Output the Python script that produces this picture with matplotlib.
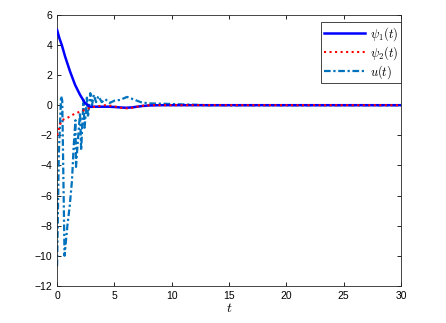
import matplotlib
matplotlib.use('Agg')
import matplotlib.pyplot as plt

plt.rcParams['font.family'] = ['Liberation Sans', 'DejaVu Sans']
plt.rcParams['mathtext.fontset'] = 'cm'

# psi_1(t)
t1 = [0, 0.2, 0.41, 0.7, 1.13, 1.57, 2.0, 2.44, 2.88, 3.3,
      4.0, 4.5, 5.0, 5.5, 6.0, 6.5, 7.0, 7.5, 8.0, 9.0, 10.0, 15.0, 30.0]
psi1 = [5.0, 4.45, 4.0, 3.23, 2.24, 1.35, 0.69, 0.14, -0.11, -0.1,
        -0.1, -0.1, -0.12, -0.15, -0.17, -0.15, -0.1, -0.05, -0.02, 0.0, 0.0, 0.0, 0.0]

# psi_2(t)
t2 = [0, 0.15, 0.3, 0.41, 1.0, 1.57, 2.2, 2.7, 3.3, 4.2, 4.8, 5.4,
      5.9, 6.5, 7.0, 7.6, 8.5, 10.0, 15.0, 30.0]
psi2 = [-2.0, -1.6, -1.2, -1.0, -0.8, -0.55, -0.38, -0.22, -0.1, 0.0, -0.05, -0.15,
        -0.22, -0.18, -0.1, -0.02, 0.0, 0.0, 0.0, 0.0]

# u(t)
tu = [0, 0.15, 0.35, 0.45, 0.65, 0.9, 1.1, 1.3, 1.45, 1.6, 1.65, 1.8, 2.0, 2.1,
      2.3, 2.4, 2.6, 2.7, 2.9, 3.05, 3.2, 3.4, 3.6, 3.9, 4.2,
      4.6, 5.0, 5.5, 6.1, 6.8, 7.3, 8.0, 9.0, 10.0, 11.0, 12.0, 13.0, 30.0]
u = [-10.7, -3.3, 0.6, 0.3, -10.0, -8.0, -6.7, -5.0, -2.7, -1.0, -4.1, -2.5, -0.5, -3.0,
     0.35, -1.5, 0.5, -0.8, 0.8, 0.0, 0.7, 0.2, 0.6, 0.2, 0.4,
     0.15, 0.3, 0.35, 0.55, 0.35, 0.2, 0.12, 0.1, 0.08, 0.05, 0.03, 0.0, 0.0]

fig = plt.figure(figsize=(4.46, 3.23), dpi=100)
ax = fig.add_axes([0.128, 0.115, 0.771, 0.839])

ax.plot(tu, u, color=(0, 0.447, 0.741), ls='-.', dashes=(3, 1.2, 1, 1.2), lw=1.6,
        label=r'$u(t)$', zorder=2)
ax.plot(t1, psi1, color=(0, 0, 1), lw=1.8, label=r'$\psi_1(t)$', zorder=3)
ax.plot(t2, psi2, color='red', ls=':', lw=1.5, label=r'$\psi_2(t)$', zorder=4)

ax.set_xlim(0, 30)
ax.set_ylim(-12, 6)
ax.set_xticks(range(0, 31, 5))
ax.set_yticks(range(-12, 7, 2))
ax.tick_params(direction='in', top=True, right=True, labelsize=7.5, length=3, width=0.6)
for s in ax.spines.values():
    s.set_linewidth(0.6)
    s.set_color('#262626')
ax.set_xlabel(r'$t$', fontsize=10, labelpad=0)

h, l = ax.get_legend_handles_labels()
order = [1, 2, 0]
leg = ax.legend([h[i] for i in order], [l[i] for i in order],
                loc='upper right', bbox_to_anchor=(1.0, 0.972), fontsize=9,
                fancybox=False, framealpha=1, edgecolor='#262626', borderaxespad=0,
                handlelength=3.3, borderpad=0.2, labelspacing=0.1, handletextpad=0.4)
leg.get_frame().set_linewidth(0.6)

fig.savefig('out.png', dpi=100)
